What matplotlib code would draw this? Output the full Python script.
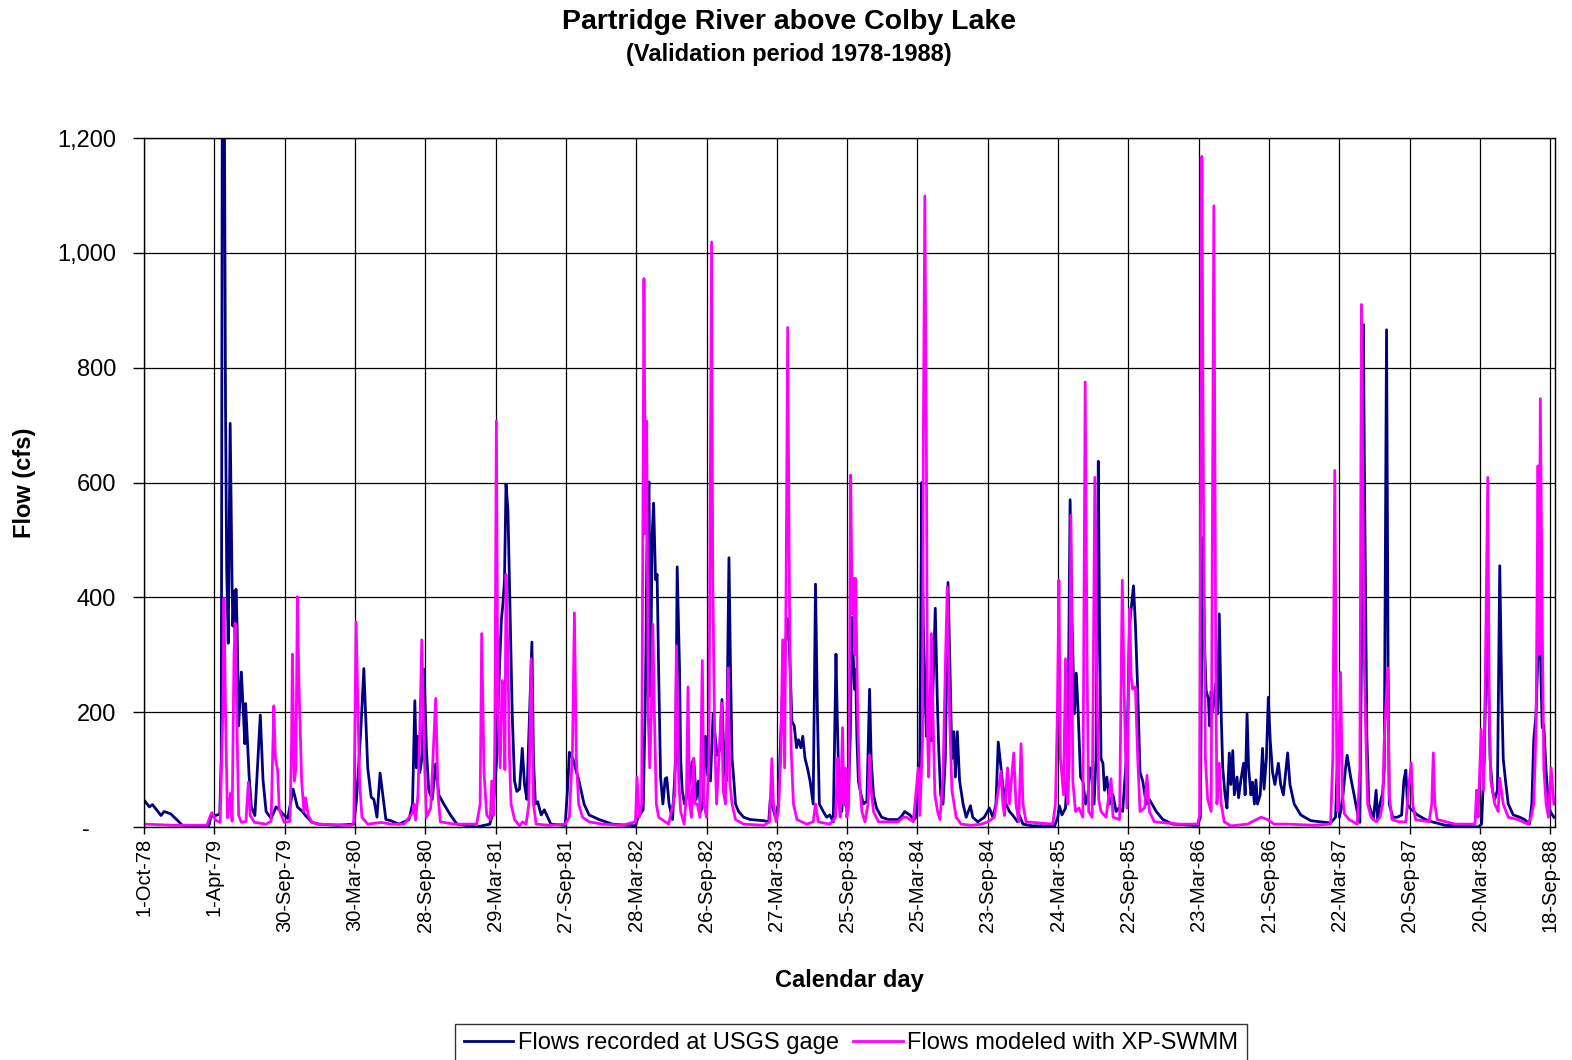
import matplotlib
matplotlib.use("Agg")
import matplotlib.pyplot as plt
import numpy as np
import pandas as pd

plt.rcParams["font.family"] = ["Liberation Sans", "DejaVu Sans"]

START = pd.Timestamp("1978-10-01")
END = pd.Timestamp("1988-09-30")

# days since 1-Oct-78 and flow (cfs)
obs_day = [0, 14, 22, 44, 52, 69, 86, 99, 168, 173, 185, 196, 200, 203, 207, 211, 214, 218, 223, 228,
           230, 233, 236, 238, 241, 245, 252, 256, 261, 263, 267, 272, 278, 287, 301, 308, 316, 329, 342, 350,
           359, 372, 386, 397, 410, 418, 435, 452, 500, 543, 549, 554, 562, 569, 575, 579, 588, 595, 603, 611,
           618, 626, 639, 660, 686, 695, 701, 705, 709, 714, 720, 725, 731, 737, 746, 755, 763, 776, 793, 810,
           861, 895, 903, 912, 916, 920, 925, 929, 933, 937, 942, 948, 953, 959, 965, 972, 979, 985, 991, 996,
           1004, 1008, 1013, 1019, 1028, 1036, 1045, 1053, 1090, 1096, 1101, 1110, 1126, 1139, 1152, 1178, 1212, 1272, 1279, 1292,
           1298, 1302, 1307, 1311, 1315, 1319, 1324, 1328, 1332, 1337, 1343, 1349, 1353, 1359, 1368, 1376, 1380, 1386, 1389, 1393,
           1399, 1406, 1413, 1418, 1423, 1429, 1435, 1441, 1447, 1453, 1459, 1466, 1473, 1483, 1490, 1496, 1501, 1507, 1514, 1518,
           1522, 1526, 1531, 1539, 1552, 1569, 1604, 1617, 1621, 1628, 1634, 1642, 1648, 1655, 1662, 1668, 1677, 1683, 1689, 1694,
           1700, 1705, 1711, 1717, 1724, 1732, 1738, 1743, 1748, 1758, 1767, 1775, 1784, 1791, 1794, 1799, 1802, 1806, 1811, 1815,
           1822, 1828, 1832, 1836, 1839, 1842, 1845, 1849, 1856, 1862, 1871, 1878, 1882, 1888, 1896, 1909, 1926, 1952, 1961, 1969,
           1982, 1993, 1999, 2008, 2013, 2017, 2025, 2029, 2038, 2048, 2053, 2057, 2062, 2068, 2074, 2081, 2086, 2091, 2096, 2100,
           2105, 2111, 2120, 2128, 2139, 2145, 2158, 2175, 2188, 2197, 2205, 2211, 2218, 2223, 2231, 2240, 2248, 2261, 2266, 2275,
           2300, 2357, 2365, 2369, 2376, 2385, 2391, 2397, 2402, 2408, 2413, 2418, 2424, 2430, 2437, 2443, 2449, 2454, 2459, 2464,
           2470, 2473, 2477, 2482, 2486, 2492, 2499, 2508, 2516, 2523, 2533, 2544, 2551, 2561, 2566, 2572, 2578, 2585, 2594, 2602,
           2609, 2620, 2637, 2663, 2715, 2727, 2734, 2740, 2745, 2749, 2755, 2758, 2762, 2766, 2774, 2779, 2783, 2788, 2792, 2798,
           2803, 2809, 2813, 2818, 2822, 2829, 2833, 2839, 2846, 2850, 2855, 2859, 2865, 2869, 2874, 2878, 2882, 2889, 2895, 2899,
           2905, 2910, 2915, 2921, 2927, 2936, 2942, 2949, 2960, 2966, 2977, 2994, 3020, 3046, 3071, 3084, 3089, 3094, 3101, 3110,
           3114, 3123, 3132, 3140, 3147, 3151, 3156, 3159, 3165, 3170, 3176, 3182, 3189, 3193, 3199, 3206, 3210, 3216, 3220, 3223,
           3232, 3244, 3255, 3261, 3266, 3270, 3276, 3283, 3296, 3317, 3334, 3368, 3411, 3454, 3462, 3469, 3475, 3480, 3484, 3490,
           3496, 3503, 3509, 3514, 3518, 3524, 3531, 3544, 3561, 3573, 3586, 3592, 3597, 3603, 3612, 3616, 3619, 3623, 3629, 3635,
           3640, 3649]
obs_flow = [47, 35, 39, 20, 27, 23, 12, 3, 2, 18, 20, 22, 120, 1450, 1450, 730, 450, 320, 703, 420,
            350, 410, 330, 414, 350, 176, 270, 215, 145, 215, 160, 90, 35, 20, 195, 82, 27, 15, 35, 30,
            23, 15, 66, 35, 27, 20, 8, 5, 3, 5, 40, 87, 180, 276, 173, 103, 52, 48, 17, 94,
            56, 13, 11, 5, 13, 40, 220, 103, 158, 95, 123, 275, 134, 64, 48, 110, 56, 40, 21, 5,
            0, 5, 25, 110, 197, 275, 361, 389, 431, 597, 551, 353, 197, 80, 62, 66, 137, 73, 48, 158,
            322, 119, 40, 44, 21, 30, 17, 5, 3, 64, 130, 119, 80, 40, 21, 13, 5, 2, 17, 30,
            236, 510, 601, 227, 506, 564, 431, 440, 275, 87, 40, 84, 86, 40, 13, 119, 453, 277, 119, 64,
            40, 56, 80, 111, 119, 48, 80, 27, 40, 158, 90, 80, 197, 125, 134, 222, 119, 80, 469, 277,
            119, 87, 40, 27, 17, 13, 11, 9, 48, 33, 17, 40, 158, 277, 330, 363, 184, 176, 138, 152,
            138, 158, 119, 103, 80, 40, 423, 197, 40, 27, 17, 21, 9, 301, 200, 56, 40, 27, 80, 40,
            27, 158, 365, 290, 240, 275, 158, 80, 56, 40, 45, 240, 119, 56, 33, 17, 13, 13, 19, 27,
            21, 13, 17, 119, 600, 350, 158, 200, 150, 381, 227, 134, 56, 40, 119, 426, 277, 119, 166, 87,
            166, 80, 40, 17, 37, 17, 9, 17, 33, 17, 40, 148, 103, 72, 40, 27, 21, 9, 20, 5,
            2, 2, 17, 37, 21, 33, 111, 570, 355, 197, 268, 197, 87, 80, 40, 56, 103, 87, 40, 119,
            637, 353, 119, 111, 64, 87, 40, 56, 27, 33, 27, 134, 353, 420, 353, 236, 95, 80, 40, 48,
            40, 27, 13, 5, 3, 3, 17, 504, 316, 238, 222, 176, 236, 200, 250, 197, 371, 197, 103, 56,
            33, 129, 74, 133, 56, 87, 51, 82, 111, 56, 197, 103, 56, 78, 40, 82, 40, 56, 137, 66,
            119, 226, 150, 95, 74, 111, 74, 56, 129, 74, 40, 21, 11, 9, 7, 17, 119, 17, 40, 103,
            125, 87, 56, 27, 8, 300, 875, 600, 160, 40, 27, 13, 64, 13, 40, 60, 100, 866, 277, 40,
            17, 17, 21, 82, 99, 40, 33, 29, 21, 13, 9, 3, 2, 0, 5, 119, 337, 250, 119, 64,
            48, 64, 455, 238, 119, 80, 40, 21, 17, 13, 5, 40, 152, 197, 395, 250, 173, 178, 97, 40,
            27, 17]

sim_day = [0, 78, 163, 172, 176, 185, 197, 204, 207, 211, 216, 221, 224, 228, 233, 236, 240, 245, 252, 264,
           270, 275, 286, 316, 329, 336, 340, 346, 350, 363, 378, 382, 384, 389, 393, 397, 401, 408, 414, 418,
           425, 435, 452, 537, 543, 549, 554, 558, 564, 579, 614, 639, 673, 695, 699, 703, 709, 714, 719, 725,
           731, 742, 755, 761, 767, 802, 861, 870, 874, 880, 887, 896, 900, 905, 908, 912, 916, 922, 927, 931,
           934, 937, 942, 946, 950, 959, 972, 980, 989, 996, 1002, 1008, 1015, 1049, 1090, 1101, 1109, 1114, 1119, 1125,
           1135, 1152, 1186, 1238, 1272, 1276, 1282, 1288, 1294, 1298, 1301, 1305, 1309, 1313, 1317, 1321, 1326, 1332, 1358, 1374,
           1378, 1384, 1389, 1398, 1404, 1408, 1412, 1417, 1422, 1426, 1432, 1439, 1445, 1449, 1456, 1462, 1469, 1472, 1477, 1482,
           1488, 1495, 1499, 1505, 1512, 1516, 1522, 1531, 1552, 1604, 1619, 1625, 1629, 1636, 1642, 1648, 1653, 1658, 1662, 1666,
           1671, 1675, 1681, 1690, 1715, 1732, 1738, 1745, 1775, 1790, 1795, 1799, 1802, 1808, 1811, 1815, 1819, 1824, 1829, 1833,
           1837, 1840, 1842, 1847, 1852, 1858, 1866, 1874, 1878, 1882, 1888, 1901, 1952, 1965, 1974, 1991, 2004, 2008, 2015, 2017,
           2021, 2025, 2028, 2031, 2038, 2042, 2047, 2054, 2060, 2068, 2074, 2079, 2085, 2091, 2102, 2115, 2141, 2167, 2184, 2201,
           2218, 2223, 2227, 2235, 2240, 2251, 2257, 2264, 2270, 2275, 2283, 2352, 2359, 2364, 2368, 2372, 2380, 2385, 2391, 2395,
           2399, 2404, 2411, 2420, 2430, 2436, 2441, 2445, 2454, 2461, 2466, 2471, 2477, 2490, 2503, 2508, 2525, 2532, 2538, 2544,
           2551, 2555, 2559, 2566, 2572, 2578, 2590, 2596, 2602, 2615, 2680, 2727, 2732, 2738, 2742, 2747, 2753, 2762, 2769, 2774,
           2777, 2783, 2788, 2796, 2813, 2856, 2891, 2908, 2925, 2960, 3028, 3071, 3077, 3082, 3087, 3090, 3097, 3102, 3107, 3119,
           3140, 3147, 3151, 3158, 3161, 3167, 3176, 3189, 3199, 3206, 3210, 3219, 3223, 3230, 3249, 3266, 3274, 3280, 3284, 3291,
           3326, 3333, 3337, 3341, 3347, 3394, 3445, 3449, 3453, 3461, 3467, 3472, 3478, 3482, 3486, 3496, 3505, 3509, 3518, 3531,
           3556, 3582, 3590, 3597, 3603, 3608, 3611, 3614, 3619, 3623, 3629, 3635, 3642, 3649]
sim_flow = [5, 3, 3, 20, 25, 12, 8, 200, 398, 200, 16, 40, 59, 10, 300, 355, 200, 20, 8, 10,
            78, 20, 8, 5, 10, 211, 120, 98, 30, 8, 10, 150, 301, 80, 100, 401, 250, 80, 27, 51,
            20, 8, 5, 3, 8, 357, 197, 80, 17, 5, 8, 5, 5, 25, 40, 12, 56, 173, 326, 134,
            17, 33, 224, 56, 9, 5, 5, 40, 337, 95, 21, 13, 80, 20, 150, 707, 197, 103, 255, 244,
            100, 440, 293, 119, 40, 13, 2, 9, 5, 40, 293, 40, 5, 3, 5, 17, 134, 373, 119, 40,
            17, 9, 5, 3, 9, 87, 17, 40, 955, 510, 707, 197, 103, 197, 353, 197, 40, 17, 5, 56,
            316, 80, 27, 5, 56, 244, 40, 17, 119, 40, 40, 17, 290, 40, 17, 119, 1019, 433, 158, 40,
            119, 216, 64, 40, 277, 80, 40, 13, 5, 3, 9, 119, 40, 9, 27, 119, 326, 103, 433, 870,
            353, 134, 40, 13, 5, 9, 40, 9, 5, 17, 120, 40, 17, 173, 40, 103, 17, 40, 613, 371,
            433, 300, 433, 197, 80, 27, 9, 40, 125, 64, 27, 9, 9, 17, 17, 9, 103, 20, 150, 662,
            1099, 662, 158, 87, 337, 197, 56, 27, 13, 87, 277, 418, 197, 64, 17, 5, 3, 5, 9, 17,
            97, 40, 20, 103, 40, 129, 40, 9, 145, 40, 9, 5, 40, 197, 430, 119, 56, 293, 40, 119,
            543, 80, 27, 33, 17, 775, 277, 27, 17, 609, 277, 48, 27, 17, 84, 17, 13, 430, 197, 33,
            380, 260, 240, 244, 119, 27, 33, 90, 27, 9, 5, 5, 20, 1168, 590, 121, 48, 27, 1082, 277,
            40, 111, 40, 9, 2, 5, 17, 13, 5, 5, 3, 5, 121, 621, 121, 27, 269, 56, 23, 13,
            5, 100, 910, 300, 197, 40, 17, 9, 17, 40, 150, 277, 56, 13, 9, 9, 74, 111, 40, 13,
            9, 40, 129, 40, 13, 5, 5, 64, 17, 170, 64, 277, 609, 197, 80, 40, 27, 85, 40, 17,
            13, 5, 17, 40, 173, 629, 300, 746, 353, 103, 40, 17, 103, 40]

x_tick_labels = ["1-Oct-78", "1-Apr-79", "30-Sep-79", "30-Mar-80", "28-Sep-80", "29-Mar-81",
                 "27-Sep-81", "28-Mar-82", "26-Sep-82", "27-Mar-83", "25-Sep-83", "25-Mar-84",
                 "23-Sep-84", "24-Mar-85", "22-Sep-85", "23-Mar-86", "21-Sep-86", "22-Mar-87",
                 "20-Sep-87", "20-Mar-88", "18-Sep-88"]
y_ticks = [0, 200, 400, 600, 800, 1000, 1200]
y_tick_labels = ["-    ", "200", "400", "600", "800", "1,000", "1,200"]

obs_dates = START + pd.to_timedelta(obs_day, unit="D")
sim_dates = START + pd.to_timedelta(sim_day, unit="D")
tick_dates = pd.to_datetime(x_tick_labels, format="%d-%b-%y")

W, H = 1572, 1060
fig = plt.figure(figsize=(W / 100, H / 100), dpi=100)
ax = fig.add_axes([144 / W, 1 - 827 / H, (1555 - 144) / W, (827 - 138) / H])

ax.plot(obs_dates, obs_flow, color="#000080", lw=2.0, label="Flows recorded at USGS gage")
ax.plot(sim_dates, sim_flow, color="#FF00FF", lw=2.0, label="Flows modeled with XP-SWMM")

ax.set_xlim(START, END)
ax.set_ylim(0, 1200)
ax.set_xticks(tick_dates)
ax.set_xticklabels(x_tick_labels, rotation=90, fontsize=14.5)
ax.set_yticks(y_ticks)
ax.set_yticklabels(y_tick_labels, fontsize=17)
ax.tick_params(axis="y", direction="out", length=8, pad=12, width=1)
ax.tick_params(axis="x", direction="out", length=5, pad=3, width=1)
ax.grid(True, color="black", lw=0.9)
for s in ax.spines.values():
    s.set_color("black")
    s.set_linewidth(1.0)

fig.text(0.502, 1 - 22 / H, "Partridge River above Colby Lake", ha="center", va="center",
         fontsize=20.5, fontweight="bold")
fig.text(0.502, 1 - 55 / H, "(Validation period 1978-1988)", ha="center", va="center",
         fontsize=17, fontweight="bold")
fig.text(24 / W, 1 - 483 / H, "Flow (cfs)", rotation=90, ha="center", va="center",
         fontsize=17, fontweight="bold")
fig.text(849 / W, 1 - 980 / H, "Calendar day", ha="center", va="center",
         fontsize=17, fontweight="bold")

leg = fig.legend(loc="center", bbox_to_anchor=(851 / W, 1 - 1043 / H), ncol=2, fontsize=17,
                 frameon=True, fancybox=False, edgecolor="black", handlelength=2.1,
                 handletextpad=0.2, columnspacing=0.6, borderpad=0.35, borderaxespad=0)
leg.get_frame().set_linewidth(1.0)

fig.savefig("out.png", dpi=100)
